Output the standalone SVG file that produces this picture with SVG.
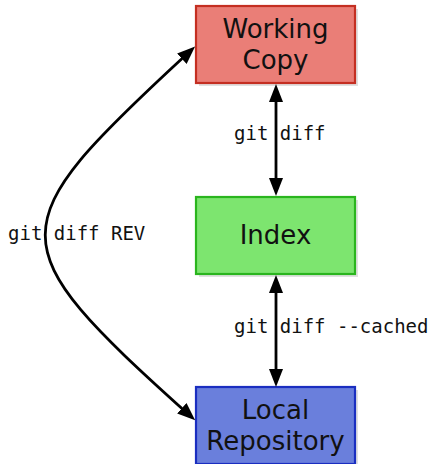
<svg xmlns="http://www.w3.org/2000/svg" width="434" height="464" viewBox="0 0 434 464">
  <style>
    .shadow { fill: #d8d8d8; opacity: 0.8; }
    .box { stroke-width: 2.2; }
    .node-label { font-family: "DejaVu Sans", Verdana, sans-serif; font-size: 26px; fill: #111; text-anchor: middle; }
    .cmd { font-family: "DejaVu Sans Mono", "Liberation Mono", monospace; font-size: 19px; fill: #111; }
    .edge { fill: none; stroke: #000; stroke-width: 2.8; }
  </style>
  <defs>
    <marker id="arrow" markerUnits="userSpaceOnUse" markerWidth="18" markerHeight="14" refX="7" refY="7" orient="auto-start-reverse" viewBox="0 0 18 14">
      <path d="M0,0 L18,7 L0,14 z" fill="#000"/>
    </marker>
  </defs>
  <rect width="434" height="464" fill="#fff"/>

  <g id="working-copy">
    <rect class="shadow" x="199" y="9" width="159" height="77"/>
    <rect class="box" x="196" y="6" width="159" height="77" fill="#ea7e77" stroke="#c42f22"/>
    <text class="node-label" x="275.5" y="38">Working</text>
    <text class="node-label" x="275.5" y="69">Copy</text>
  </g>

  <g id="index">
    <rect class="shadow" x="199" y="200" width="159" height="77"/>
    <rect class="box" x="196" y="197" width="159" height="77" fill="#7de56f" stroke="#2ab51e"/>
    <text class="node-label" x="275.5" y="244">Index</text>
  </g>

  <g id="local-repository">
    <rect class="shadow" x="199" y="390" width="159" height="77"/>
    <rect class="box" x="196" y="387" width="159" height="77" fill="#6a7fdc" stroke="#1a2ec0"/>
    <text class="node-label" x="275.5" y="419">Local</text>
    <text class="node-label" x="275.5" y="450">Repository</text>
  </g>

  <g id="connectors">
    <path class="edge" d="M276,95 L276,185" marker-start="url(#arrow)" marker-end="url(#arrow)"/>
    <path class="edge" d="M276,286 L276,376" marker-start="url(#arrow)" marker-end="url(#arrow)"/>
    <path class="edge" d="M187,54 C-2,228 -2,243 187,413" marker-start="url(#arrow)" marker-end="url(#arrow)"/>
    <text class="cmd" x="234" y="140">git diff</text>
    <text class="cmd" x="234" y="333">git diff --cached</text>
    <text class="cmd" x="8" y="240">git diff REV</text>
  </g>
</svg>
